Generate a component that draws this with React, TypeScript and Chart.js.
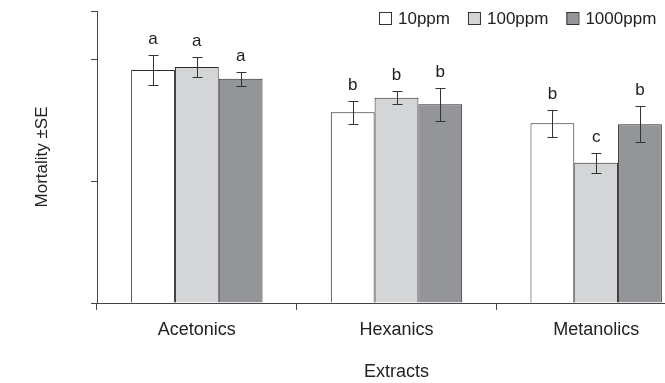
import React, { useEffect, useRef } from "react";
import { Chart, registerables } from "chart.js";

Chart.register(...registerables);

const categories = ["Acetonics", "Hexanics", "Metanolics"];
const seriesNames = ["10ppm", "100ppm", "1000ppm"];
const ppm10 = [1.915, 1.567, 1.477];
const ppm100 = [1.94, 1.687, 1.153];
const ppm1000 = [1.843, 1.633, 1.469];
const se10 = [0.125, 0.097, 0.111];
const se100 = [0.079, 0.052, 0.081];
const se1000 = [0.056, 0.136, 0.147];
const letters10 = ["a", "b", "b"];
const letters100 = ["a", "b", "c"];
const letters1000 = ["a", "b", "b"];
const yTicks = [0, 1, 2, 2.4];

const FONT = "'Liberation Sans', Arial, Helvetica, sans-serif";
const INK = "#222";
const AXIS = "#444";
const W = 696;
const H = 383;

const errorPlugin = {
  id: "errorBarsLetters",
  afterDatasetsDraw(chart: any) {
    const ctx = chart.ctx;
    const y = chart.scales.y;
    ctx.save();
    chart.data.datasets.forEach((ds: any, di: number) => {
      const meta = chart.getDatasetMeta(di);
      meta.data.forEach((bar: any, i: number) => {
        const v = ds.data[i];
        const e = ds.se[i];
        const x = Math.round(bar.x) + 0.5;
        const yt = Math.round(y.getPixelForValue(v + e)) + 0.5;
        const yb = Math.round(y.getPixelForValue(v - e)) + 0.5;
        ctx.strokeStyle = "#333";
        ctx.lineWidth = 1;
        ctx.beginPath();
        ctx.moveTo(x, yt);
        ctx.lineTo(x, yb);
        ctx.moveTo(x - 5, yt);
        ctx.lineTo(x + 5, yt);
        ctx.moveTo(x - 5, yb);
        ctx.lineTo(x + 5, yb);
        ctx.stroke();
        ctx.fillStyle = INK;
        ctx.font = `17px ${FONT}`;
        ctx.textAlign = "center";
        ctx.textBaseline = "alphabetic";
        ctx.fillText(ds.letters[i], bar.x, yt - 12);
      });
    });
    ctx.restore();
  },
};

const legendPlugin = {
  id: "customLegend",
  afterDraw(chart: any) {
    const ctx = chart.ctx;
    ctx.save();
    ctx.font = `17px ${FONT}`;
    ctx.textBaseline = "middle";
    ctx.textAlign = "left";
    let x = 379;
    const top = 12;
    const box = 12;
    chart.data.datasets.forEach((ds: any) => {
      ctx.fillStyle = ds.backgroundColor;
      ctx.fillRect(x, top, box, box);
      ctx.strokeStyle = "#333";
      ctx.lineWidth = 1;
      ctx.strokeRect(x + 0.5, top + 0.5, box, box);
      ctx.fillStyle = INK;
      const tx = x + box + 7;
      ctx.fillText(ds.label, tx, top + box / 2 + 1);
      x = tx + ctx.measureText(ds.label).width + 18;
    });
    ctx.restore();
  },
};

export default function App() {
  const ref = useRef<HTMLCanvasElement | null>(null);

  useEffect(() => {
    if (!ref.current) return;
    const mk = (label: string, data: number[], se: number[], letters: string[], color: string) => ({
      label,
      data,
      se,
      letters,
      backgroundColor: color,
      borderColor: "#2a2a2a",
      borderWidth: 1,
      borderSkipped: "bottom",
      categoryPercentage: 0.658,
      barPercentage: 1,
    });
    const chart = new Chart(ref.current, {
      type: "bar",
      data: {
        labels: categories,
        datasets: [
          mk(seriesNames[0], ppm10, se10, letters10, "#ffffff"),
          mk(seriesNames[1], ppm100, se100, letters100, "#d4d5d7"),
          mk(seriesNames[2], ppm1000, se1000, letters1000, "#939598"),
        ] as any,
      },
      options: {
        animation: false,
        responsive: false,
        devicePixelRatio: 1,
        layout: { padding: { top: 11, left: 0, right: 0, bottom: 0 } },
        plugins: {
          legend: { display: false },
          tooltip: { enabled: false },
        },
        scales: {
          x: {
            type: "category",
            offset: true,
            grid: {
              display: true,
              offset: true,
              drawOnChartArea: false,
              drawTicks: true,
              tickLength: 7,
              color: AXIS,
            },
            border: { display: true, color: AXIS, width: 1 },
            ticks: {
              color: INK,
              padding: 9,
              font: { family: FONT, size: 18 },
              maxRotation: 0,
            },
            title: {
              display: true,
              text: "Extracts",
              color: INK,
              font: { family: FONT, size: 18 },
              padding: { top: 0, bottom: 0 },
            },
            afterFit(scale: any) {
              scale.height = 80;
            },
          },
          y: {
            type: "linear",
            min: 0,
            max: 2.4,
            afterBuildTicks(scale: any) {
              scale.ticks = yTicks.map((v) => ({ value: v }));
            },
            grid: {
              display: true,
              drawOnChartArea: false,
              drawTicks: true,
              tickLength: 6,
              color: AXIS,
            },
            border: { display: true, color: AXIS, width: 1 },
            ticks: { display: false },
            title: {
              display: true,
              text: "Mortality ±SE",
              color: INK,
              font: { family: FONT, size: 17 },
              padding: { top: 32, bottom: 0 },
            },
            afterFit(scale: any) {
              scale.width = 97;
            },
          },
        },
      } as any,
      plugins: [errorPlugin, legendPlugin],
    });
    return () => chart.destroy();
  }, []);

  return (
    <div
      style={{
        position: "fixed",
        left: 0,
        top: 0,
        width: 665,
        height: 383,
        overflow: "hidden",
        background: "#fff",
      }}
    >
      <canvas ref={ref} width={W} height={H} style={{ display: "block", width: W, height: H }} />
    </div>
  );
}
